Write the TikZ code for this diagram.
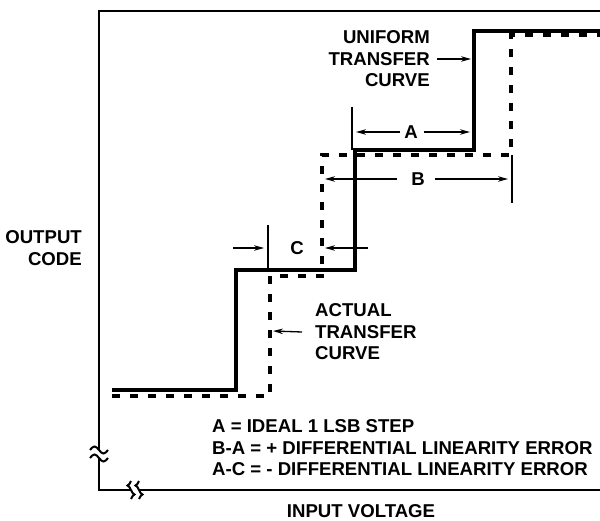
\documentclass[tikz,border=0pt]{standalone}
\usepackage{fontspec}
\setmainfont{Liberation Sans}
\usetikzlibrary{arrows.meta}
\begin{document}
\begin{tikzpicture}[x=1pt,y=-1pt,
  axisline/.style={line width=2pt, line join=miter},
  uniform/.style={line width=4.8pt, line join=miter},
  actual/.style={line width=4.8pt, dash pattern=on 8pt off 10pt},
  thin/.style={line width=1.3pt},
  arr/.style={thin, -{Stealth[length=10pt,width=5.5pt]}},
  lbl/.style={font=\bfseries\fontsize{18.6}{21.5}\selectfont, inner sep=0pt}]
\useasboundingbox (0,0) rectangle (600,521);
% axes with break marks
\draw[axisline] (600,11) -- (99,11) -- (99,450);
\draw[axisline] (90,450) sin (94.5,446.5) cos (99,450) sin (103.5,453.5) cos (108,450);
\draw[axisline] (90,458) sin (94.5,454.5) cos (99,458) sin (103.5,461.5) cos (108,458);
\draw[axisline] (99,458) -- (99,490) -- (131,490);
\draw[axisline] (131,481) sin (127.5,485.5) cos (131,490) sin (134.5,494.5) cos (131,499);
\draw[axisline] (139,481) sin (135.5,485.5) cos (139,490) sin (142.5,494.5) cos (139,499);
\draw[axisline] (139,490) -- (600,490);
% curve corners
\coordinate (u0) at (112,390); \coordinate (u1) at (236,390);
\coordinate (u2) at (236,270); \coordinate (u3) at (355,270);
\coordinate (u4) at (355,150); \coordinate (u5) at (474,150);
\coordinate (u6) at (474,31);  \coordinate (u7) at (602,31);
\coordinate (d0) at (112,396); \coordinate (d1) at (270,396);
\coordinate (d2) at (270,276); \coordinate (d3) at (322,276);
\coordinate (d4) at (322,155); \coordinate (d5) at (511,155);
\coordinate (d6) at (511,35);  \coordinate (d7) at (602,35);
\draw[actual] (d0) -- (d1) -- (d2) -- (d3) -- (d4) -- (d5) -- (d6) -- (d7);
\draw[uniform] (u0) -- (u1) -- (u2) -- (u3) -- (u4) -- (u5) -- (u6) -- (u7);
% labels
\node[lbl, anchor=east, align=right] (uni) at (430,59) {UNIFORM\\TRANSFER\\CURVE};
\coordinate (uniT) at (471,59);
\draw[arr] ([xshift=7pt]uni.east) -- (uniT);
\node[lbl, anchor=west, align=left] (act) at (315,332) {ACTUAL\\TRANSFER\\CURVE};
\coordinate (actT) at (273,331);
\draw[arr] ([xshift=-13pt]act.west) -- (actT);
\node[lbl, anchor=east, align=right] (ylab) at (82,248) {OUTPUT\\CODE};
\node[lbl] (xlab) at (361,511) {INPUT VOLTAGE};
\node[lbl, anchor=west, align=left] (legend) at (212,448) {A = IDEAL 1 LSB STEP\\B-A = + DIFFERENTIAL LINEARITY ERROR\\A-C = - DIFFERENTIAL LINEARITY ERROR};
% dimension A
\coordinate (aE1) at (352,107); \coordinate (aE2) at (352,150);
\draw[thin] (aE1) -- (aE2);
\node[lbl, inner sep=0pt] (A) at (411,132) {A};
\coordinate (aL) at (356,132); \coordinate (aR) at (470,132);
\draw[arr] ([xshift=-4pt]A.west) -- (aL);
\draw[arr] ([xshift=6pt]A.east) -- (aR);
% dimension B
\coordinate (bE1) at (512,155); \coordinate (bE2) at (512,203);
\draw[thin] (bE1) -- (bE2);
\node[lbl] (B) at (418,179) {B};
\coordinate (bL) at (325,179); \coordinate (bR) at (508,179);
\draw[arr] ([xshift=-14pt]B.west) -- (bL);
\draw[arr] ([xshift=10pt]B.east) -- (bR);
% dimension C
\coordinate (cE1) at (268,225); \coordinate (cE2) at (268,270);
\draw[thin] (cE1) -- (cE2);
\node[lbl] (C) at (297,248) {C};
\coordinate (cLs) at (233,248); \coordinate (cLt) at (264,248);
\coordinate (cRs) at (368,248); \coordinate (cRt) at (325,248);
\draw[arr] (cLs) -- (cLt);
\draw[arr] (cRs) -- (cRt);
\end{tikzpicture}
\end{document}
